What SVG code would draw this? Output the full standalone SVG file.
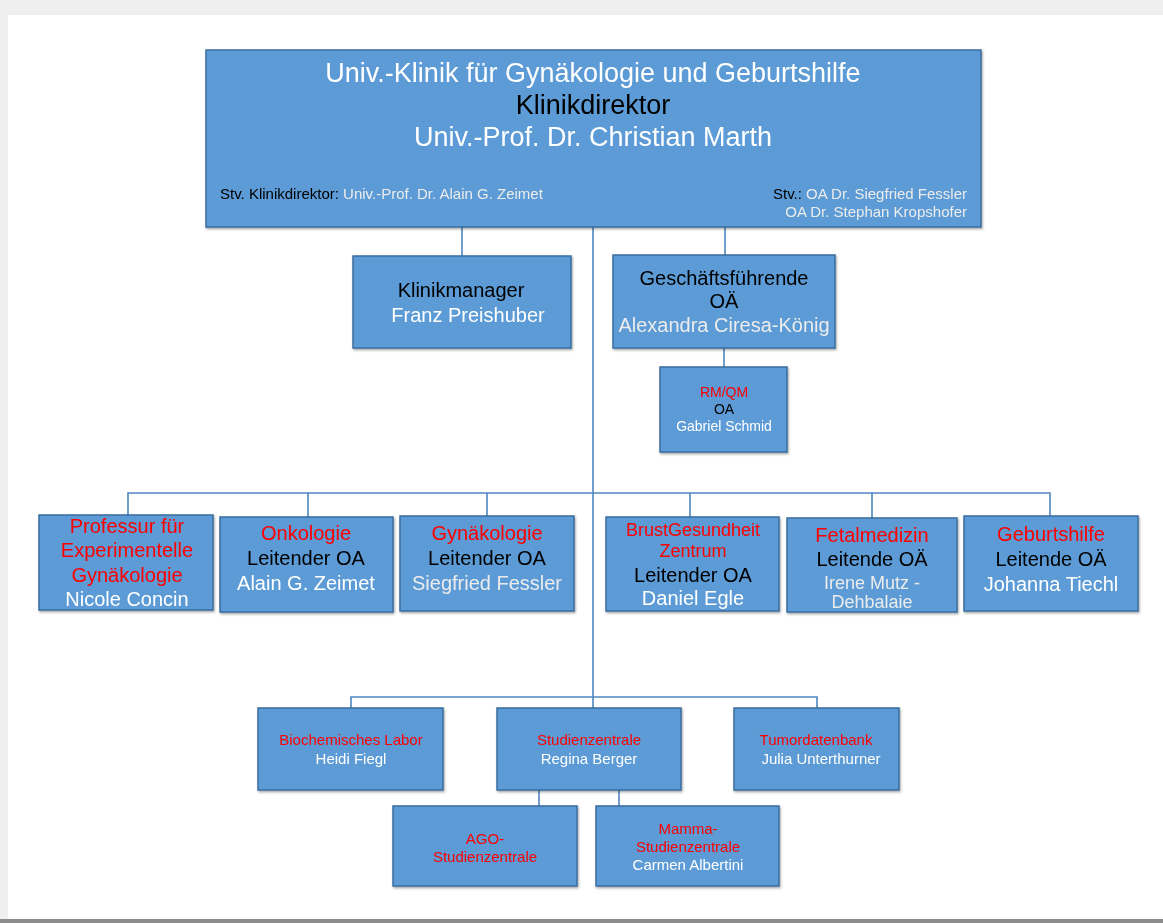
<svg xmlns="http://www.w3.org/2000/svg" width="1163" height="923" viewBox="0 0 1163 923">
<style>
.box{fill:#5b9bd5;stroke:#3b6d9e;stroke-width:1.5}
.con{stroke:#4f86c2;stroke-width:1.6;fill:none}
text{font-family:"Liberation Sans",Arial,sans-serif;text-anchor:middle}
.w{fill:#ffffff}
.g{fill:#ececec}
.k{fill:#000000}
.r{fill:#ff0000}
.t27{font-size:27px}
.t20{font-size:20px}
.t18{font-size:18px}
.t15{font-size:15px}
.t14{font-size:14px}
.s{font-size:15px;text-anchor:start}
.se{font-size:15px;text-anchor:end}
</style>
<defs>
<filter id="sh" x="-5%" y="-5%" width="110%" height="115%">
<feDropShadow dx="1" dy="1.5" stdDeviation="0.8" flood-color="#000" flood-opacity="0.35"/>
</filter>
</defs>
<rect x="0" y="0" width="1163" height="923" fill="#ffffff"/>
<rect x="0" y="0" width="1163" height="15" fill="#efefef"/>
<rect x="0" y="0" width="8" height="923" fill="#efefef"/>
<rect x="0" y="919" width="1163" height="4" fill="#8c8c8c"/>

<g id="connectors">
<line class="con" x1="462" y1="227" x2="462" y2="257"/>
<line class="con" x1="725" y1="227" x2="725" y2="256"/>
<line class="con" x1="593" y1="227" x2="593" y2="708"/>
<line class="con" x1="724" y1="348" x2="724" y2="367"/>
<polyline class="con" points="128,515 128,493 1050,493 1050,516"/>
<line class="con" x1="308" y1="493" x2="308" y2="517"/>
<line class="con" x1="487" y1="493" x2="487" y2="516"/>
<line class="con" x1="690" y1="493" x2="690" y2="517"/>
<line class="con" x1="872" y1="493" x2="872" y2="518"/>
<polyline class="con" points="351,708 351,697 817,697 817,708"/>
<line class="con" x1="539" y1="790" x2="539" y2="806"/>
<line class="con" x1="619" y1="790" x2="619" y2="806"/>
</g>

<g id="top" filter="url(#sh)">
<rect class="box" x="206" y="50" width="775" height="177"/>
<text class="t27 w" x="593" y="82">Univ.-Klinik für Gynäkologie und Geburtshilfe</text>
<text class="t27 k" x="593" y="114">Klinikdirektor</text>
<text class="t27 w" x="593" y="146">Univ.-Prof. Dr. Christian Marth</text>
<text class="s" x="220" y="199"><tspan class="k">Stv. Klinikdirektor: </tspan><tspan class="g">Univ.-Prof. Dr. Alain G. Zeimet</tspan></text>
<text class="se" x="967" y="199"><tspan class="k">Stv.: </tspan><tspan class="g">OA Dr. Siegfried Fessler</tspan></text>
<text class="se g" x="967" y="217">OA Dr. Stephan Kropshofer</text>
</g>

<g id="klinikmanager" filter="url(#sh)">
<rect class="box" x="353" y="256" width="218" height="92"/>
<text class="t20 k" x="461" y="297">Klinikmanager</text>
<text class="t20 w" x="468" y="322">Franz Preishuber</text>
</g>

<g id="geschaeftsfuehrende" filter="url(#sh)">
<rect class="box" x="613" y="255" width="222" height="93"/>
<text class="t20 k" x="724" y="285">Geschäftsführende</text>
<text class="t20 k" x="724" y="308">OÄ</text>
<text class="t20 g" x="724" y="332">Alexandra Ciresa-König</text>
</g>

<g id="rmqm" filter="url(#sh)">
<rect class="box" x="660" y="367" width="127" height="85"/>
<text class="t14 r" x="724" y="397">RM/QM</text>
<text class="t14 k" x="724" y="414">OA</text>
<text class="t14 w" x="724" y="431">Gabriel Schmid</text>
</g>

<g id="professur" filter="url(#sh)">
<rect class="box" x="39" y="515" width="174" height="95"/>
<text class="t20 r" x="127" y="533">Professur für</text>
<text class="t20 r" x="127" y="557">Experimentelle</text>
<text class="t20 r" x="127" y="582">Gynäkologie</text>
<text class="t20 w" x="127" y="606">Nicole Concin</text>
</g>

<g id="onkologie" filter="url(#sh)">
<rect class="box" x="220" y="517" width="173" height="95"/>
<text class="t20 r" x="306" y="540">Onkologie</text>
<text class="t20 k" x="306" y="565">Leitender OA</text>
<text class="t20 w" x="306" y="590">Alain G. Zeimet</text>
</g>

<g id="gynaekologie" filter="url(#sh)">
<rect class="box" x="400" y="516" width="174" height="95"/>
<text class="t20 r" x="487" y="540">Gynäkologie</text>
<text class="t20 k" x="487" y="565">Leitender OA</text>
<text class="t20 g" x="487" y="590">Siegfried Fessler</text>
</g>

<g id="brustgesundheit" filter="url(#sh)">
<rect class="box" x="606" y="517" width="173" height="94"/>
<text class="t18 r" x="693" y="536">BrustGesundheit</text>
<text class="t18 r" x="693" y="557">Zentrum</text>
<text class="t20 k" x="693" y="582">Leitender OA</text>
<text class="t20 w" x="693" y="605">Daniel Egle</text>
</g>

<g id="fetalmedizin" filter="url(#sh)">
<rect class="box" x="787" y="518" width="170" height="94"/>
<text class="t20 r" x="872" y="542">Fetalmedizin</text>
<text class="t20 k" x="872" y="566">Leitende OÄ</text>
<text class="t18 g" x="872" y="589">Irene Mutz -</text>
<text class="t18 g" x="872" y="608">Dehbalaie</text>
</g>

<g id="geburtshilfe" filter="url(#sh)">
<rect class="box" x="964" y="516" width="174" height="95"/>
<text class="t20 r" x="1051" y="541">Geburtshilfe</text>
<text class="t20 k" x="1051" y="566">Leitende OÄ</text>
<text class="t20 w" x="1051" y="591">Johanna Tiechl</text>
</g>

<g id="biochemisches" filter="url(#sh)">
<rect class="box" x="258" y="708" width="185" height="82"/>
<text class="t15 r" x="351" y="745">Biochemisches Labor</text>
<text class="t15 w" x="351" y="764">Heidi Fiegl</text>
</g>

<g id="studienzentrale" filter="url(#sh)">
<rect class="box" x="497" y="708" width="184" height="82"/>
<text class="t15 r" x="589" y="745">Studienzentrale</text>
<text class="t15 w" x="589" y="764">Regina Berger</text>
</g>

<g id="tumordatenbank" filter="url(#sh)">
<rect class="box" x="734" y="708" width="165" height="82"/>
<text class="t15 r" x="816" y="745">Tumordatenbank</text>
<text class="t15 w" x="821" y="764">Julia Unterthurner</text>
</g>

<g id="ago" filter="url(#sh)">
<rect class="box" x="393" y="806" width="184" height="80"/>
<text class="t15 r" x="485" y="844">AGO-</text>
<text class="t15 r" x="485" y="862">Studienzentrale</text>
</g>

<g id="mamma" filter="url(#sh)">
<rect class="box" x="596" y="806" width="183" height="80"/>
<text class="t15 r" x="688" y="834">Mamma-</text>
<text class="t15 r" x="688" y="852">Studienzentrale</text>
<text class="t15 w" x="688" y="870">Carmen Albertini</text>
</g>
</svg>
